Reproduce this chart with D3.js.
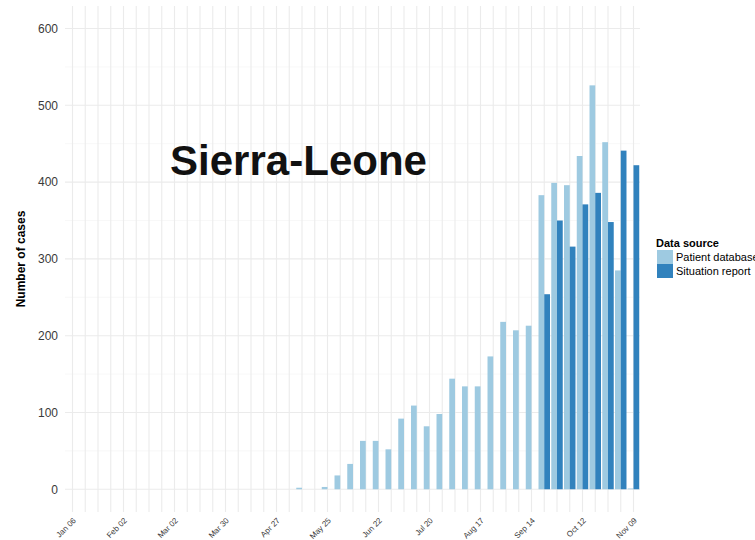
<!DOCTYPE html>
<html>
<head>
<meta charset="utf-8">
<script src="https://cdn.jsdelivr.net/npm/d3@7"></script>
<style>
  html, body { margin: 0; padding: 0; background: #fff; }
  svg { display: block; font-family: "Liberation Sans", Arial, sans-serif; }
</style>
</head>
<body>
<svg id="chart" width="755" height="540"></svg>
<script>
// ---- Data ----
const tickLabels = ["Jan 06","Feb 02","Mar 02","Mar 30","Apr 27","May 25","Jun 22","Jul 20","Aug 17","Sep 14","Oct 12","Nov 09"];
const tickWeeks = [0, 4, 8, 12, 16, 20, 24, 28, 32, 36, 40, 44];
const weeks = [0,1,2,3,4,5,6,7,8,9,10,11,12,13,14,15,16,17,18,19,20,21,22,23,24,25,26,27,28,29,30,31,32,33,34,35,36,37,38,39,40,41,42,43,44];
const patientDatabase = [0,0,0,0,0,0,0,0,0,0,0,0,0,0,0,0,0,0,2,0,3,18,33,63,63,52,92,109,82,98,144,134,134,173,218,207,213,383,399,396,434,526,452,285,1];
const situationReport = [null,null,null,null,null,null,null,null,null,null,null,null,null,null,null,null,null,null,null,null,null,null,null,null,null,null,null,null,null,null,null,null,null,null,null,null,null,254,350,316,371,386,348,441,422];
const yTicks = [0, 100, 200, 300, 400, 500, 600];
const yMinor = [50, 150, 250, 350, 450, 550];
const seriesNames = ["Patient database", "Situation report"];
const colors = ["#9ecae1", "#3182bd"];

// ---- Layout ----
const panel = { left: 65, right: 640, top: 6, bottom: 512 };
const svg = d3.select("#chart");

const x = d3.scaleLinear().domain([0, 44]).range([72.5, 633.5]);
const y = d3.scaleLinear().domain([-30, 630]).range([512.3, 5.5]);
const step = x(1) - x(0);
const barW = step * 0.9 / 2;

// grid
const g = svg.append("g");
g.selectAll(".ymin").data(yMinor).enter().append("line")
  .attr("x1", panel.left).attr("x2", panel.right)
  .attr("y1", d => y(d)).attr("y2", d => y(d))
  .attr("stroke", "#f4f4f4").attr("stroke-width", 0.6);
g.selectAll(".ymaj").data(yTicks).enter().append("line")
  .attr("x1", panel.left).attr("x2", panel.right)
  .attr("y1", d => y(d)).attr("y2", d => y(d))
  .attr("stroke", "#ebebeb").attr("stroke-width", 1.1);
g.selectAll(".xg").data(weeks).enter().append("line")
  .attr("x1", d => x(d)).attr("x2", d => x(d))
  .attr("y1", panel.top).attr("y2", panel.bottom)
  .attr("stroke", "#ebebeb").attr("stroke-width", 1.1);

// bars
const bars = svg.append("g");
bars.selectAll(".pb").data(weeks.filter(w => patientDatabase[w] > 0)).enter().append("rect")
  .attr("x", w => x(w) - barW)
  .attr("width", barW)
  .attr("y", w => y(patientDatabase[w]))
  .attr("height", w => y(0) - y(patientDatabase[w]))
  .attr("fill", colors[0]);
bars.selectAll(".sr").data(weeks.filter(w => situationReport[w] != null)).enter().append("rect")
  .attr("x", w => x(w))
  .attr("width", barW)
  .attr("y", w => y(situationReport[w]))
  .attr("height", w => y(0) - y(situationReport[w]))
  .attr("fill", colors[1]);

// y axis labels
svg.append("g").selectAll("text").data(yTicks).enter().append("text")
  .attr("x", 58).attr("y", d => y(d)).attr("dy", "0.36em")
  .attr("text-anchor", "end").attr("font-size", 12).attr("fill", "#3a3a3a")
  .text(d => d);

// x axis labels
svg.append("g").selectAll("text").data(tickWeeks).enter().append("text")
  .attr("transform", (d) => `translate(${x(d) + 2},${519}) rotate(-45)`)
  .attr("text-anchor", "end").attr("dy", "0.35em")
  .attr("font-size", 8).attr("fill", "#3a3a3a")
  .text((d, i) => tickLabels[i]);

// y axis title
svg.append("text")
  .attr("transform", "translate(25,259) rotate(-90)")
  .attr("text-anchor", "middle").attr("font-size", 12).attr("font-weight", "bold")
  .attr("fill", "#000").text("Number of cases");

// title
svg.append("text")
  .attr("x", 298.5).attr("y", 175).attr("text-anchor", "middle")
  .attr("font-size", 43).attr("font-weight", "bold").attr("fill", "#111")
  .attr("textLength", 257).attr("lengthAdjust", "spacingAndGlyphs")
  .text("Sierra-Leone");

// legend
const lg = svg.append("g").attr("transform", "translate(656,0)");
lg.append("text").attr("x", 0).attr("y", 247).attr("font-size", 11)
  .attr("font-weight", "bold").text("Data source");
seriesNames.forEach((s, i) => {
  lg.append("rect").attr("x", 1).attr("y", 250 + i * 14).attr("width", 16).attr("height", 14)
    .attr("fill", colors[i]);
  lg.append("text").attr("x", 20).attr("y", 257 + i * 14).attr("dy", "0.35em")
    .attr("font-size", 11).text(s);
});
</script>
</body>
</html>
